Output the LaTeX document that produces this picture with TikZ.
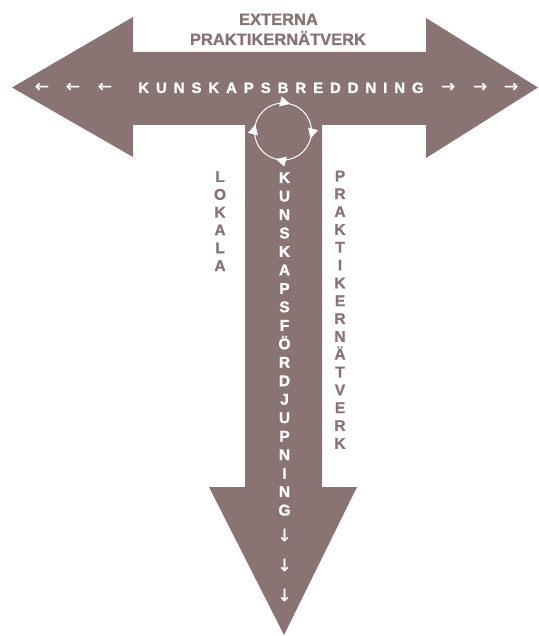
\documentclass[tikz,border=0pt]{standalone}
\usepackage{fontspec}
\setmainfont{Liberation Sans}
\newfontfamily\heavy{Liberation Sans}[UprightFont={* Bold},FakeBold=1.2]
\newfontfamily\arrowfont{DejaVu Sans}[FakeBold=0.8]
\usetikzlibrary{arrows.meta,decorations.markings}
\definecolor{mauve}{RGB}{137,116,115}
\begin{document}
\begin{tikzpicture}[x=1pt,y=-1pt,
  tshape/.style={fill=mauve,draw=none},
  letterw/.style={inner sep=0pt,text height=11pt,text depth=0pt,text=white,font=\heavy\fontsize{15.5}{18}\selectfont},
  letterm/.style={inner sep=0pt,text height=11pt,text depth=0pt,text=mauve,font=\heavy\fontsize{15.5}{18}\selectfont},
  arrowglyph/.style={inner sep=0pt,text=white,font=\arrowfont\fontsize{17}{20}\selectfont},
  title/.style={inner sep=0pt,text height=12pt,text depth=0pt,text=mauve,font=\heavy\fontsize{16.5}{20}\selectfont},
  cyclemarks/.style={postaction={decorate},decoration={markings,
    mark=at position 0.04 with {\arrow{Triangle[length=10pt,width=10pt]}},
    mark=at position 0.29 with {\arrow{Triangle[length=10pt,width=10pt]}},
    mark=at position 0.54 with {\arrow{Triangle[length=10pt,width=10pt]}},
    mark=at position 0.79 with {\arrow{Triangle[length=10pt,width=10pt]}}}}
]
\useasboundingbox (0,0) rectangle (538,636);
% T-shaped arrow
\fill[tshape] (12,87.5) -- (133,17) -- (133,52) -- (426,52) -- (426,18) -- (538,87.5)
  -- (426,158) -- (426,125) -- (322,125) -- (322,487) -- (357,487) -- (284,635)
  -- (209,487) -- (245,487) -- (245,125) -- (133,125) -- (133,157) -- cycle;
% titles
\node[title] (ext) at (278.5,19) {EXTERNA};
\node[title] (prak) at (278,39) {PRAKTIKERNÄTVERK};
% horizontal text
\node[arrowglyph] (la1) at (42,87.5) {←};
\node[arrowglyph] (la2) at (73,87.5) {←};
\node[arrowglyph] (la3) at (105,87.5) {←};
\node[letterw,font=\heavy\fontsize{15}{18}\selectfont\addfontfeature{LetterSpace=46}] (breadth) at (281,87.5) {KUNSKAPSBREDDNING};
\node[arrowglyph] (ra1) at (448,87.5) {→};
\node[arrowglyph] (ra2) at (480,87.5) {→};
\node[arrowglyph] (ra3) at (511,87.5) {→};
% cycle
\coordinate (cc) at (283,131.5);
\draw[white,line width=1pt,cyclemarks] (283,103) arc[start angle=-90,end angle=270,radius=28.5];
% vertical white text
\foreach \l [count=\i from 0] in {K,U,N,S,K,A,P,S,F,Ö,R,D,J,U,P,N,I,N,G}
  \node[letterw] (d\i) at (284.5,177.5+18.47*\i) {\l};
\node[arrowglyph] (da1) at (284.5,535) {↓};
\node[arrowglyph] (da2) at (284.5,565) {↓};
\node[arrowglyph] (da3) at (284.5,595) {↓};
% LOKALA
\foreach \l [count=\i from 0] in {L,O,K,A,L,A}
  \node[letterm] (l\i) at (220,176.5+17.8*\i) {\l};
% PRAKTIKERNÄTVERK
\foreach \l [count=\i from 0] in {P,R,A,K,T,I,K,E,R,N,Ä,T,V,E,R,K}
  \node[letterm] (p\i) at (340,175.8+17.83*\i) {\l};
\end{tikzpicture}
\end{document}
